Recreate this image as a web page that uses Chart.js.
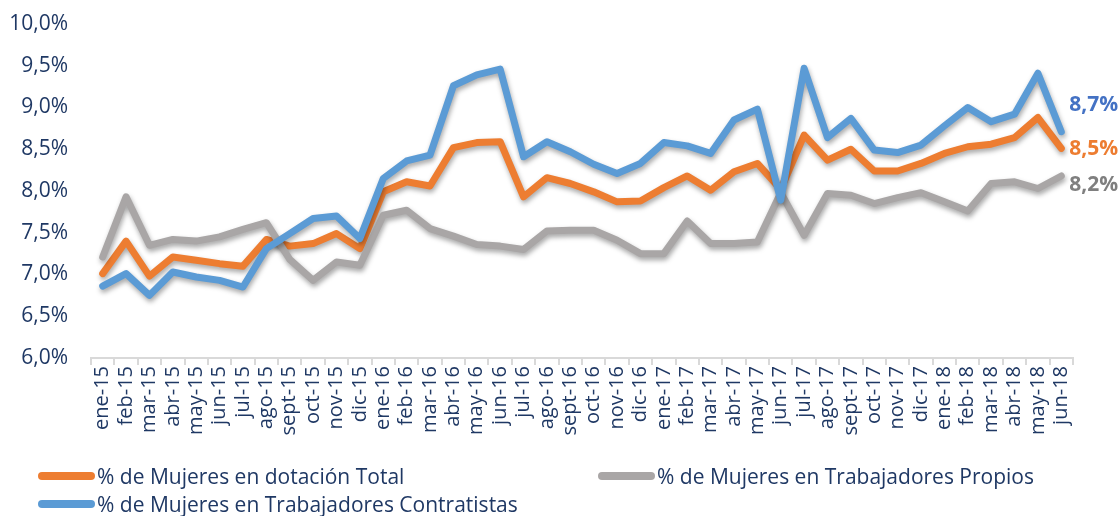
<!DOCTYPE html>
<html>
<head>
<meta charset="utf-8">
<script src="https://cdn.jsdelivr.net/npm/chart.js@4/dist/chart.umd.min.js"></script>
<style>
  html, body { margin: 0; padding: 0; background: #fff; }
  #wrap { position: relative; width: 1120px; height: 516px; }
  #legend { position: absolute; left: 0; top: 0; width: 1120px; height: 516px; pointer-events: none;
            font-family: "Open Sans", sans-serif; font-size: 21px; color: #1F3864; }
  .item { position: absolute; display: flex; align-items: center; white-space: nowrap; }
  .swatch { width: 57px; height: 8px; border-radius: 4px; margin-right: 2px; }
</style>
</head>
<body>
<div id="wrap">
  <canvas id="chart" width="1120" height="516"></canvas>
  <div id="legend"></div>
</div>
<script>
const meses = ['ene-15','feb-15','mar-15','abr-15','may-15','jun-15','jul-15','ago-15','sept-15','oct-15','nov-15','dic-15',
  'ene-16','feb-16','mar-16','abr-16','may-16','jun-16','jul-16','ago-16','sept-16','oct-16','nov-16','dic-16',
  'ene-17','feb-17','mar-17','abr-17','may-17','jun-17','jul-17','ago-17','sept-17','oct-17','nov-17','dic-17',
  'ene-18','feb-18','mar-18','abr-18','may-18','jun-18'];

const total = [7.01,7.40,6.98,7.21,7.17,7.13,7.10,7.42,7.34,7.37,7.49,7.31,
  7.99,8.11,8.06,8.52,8.58,8.59,7.93,8.16,8.09,7.99,7.87,7.88,
  8.04,8.18,8.01,8.23,8.33,8.02,8.67,8.37,8.50,8.24,8.24,8.33,
  8.45,8.53,8.56,8.64,8.88,8.51];

const propios = [7.21,7.93,7.35,7.42,7.40,7.45,7.54,7.62,7.18,6.93,7.15,7.11,
  7.71,7.77,7.55,7.46,7.36,7.34,7.30,7.52,7.53,7.53,7.41,7.25,
  7.25,7.64,7.37,7.37,7.39,7.98,7.47,7.97,7.95,7.85,7.92,7.98,
  7.87,7.76,8.09,8.11,8.03,8.18];

const contratistas = [6.86,7.01,6.75,7.03,6.97,6.93,6.85,7.31,7.49,7.67,7.70,7.43,
  8.15,8.36,8.43,9.26,9.39,9.46,8.41,8.59,8.47,8.32,8.21,8.33,
  8.58,8.54,8.45,8.85,8.98,7.89,9.47,8.64,8.87,8.49,8.46,8.55,
  8.78,9.00,8.83,8.92,9.41,8.71];

const yTicks = [6.0, 6.5, 7.0, 7.5, 8.0, 8.5, 9.0, 9.5, 10.0];

const navy = '#1F3864';
const fmt = v => v.toFixed(1).replace('.', ',') + '%';

// label colours / vertical nudges for the end-of-line values
const endStyle = [
  { color: '#ED7D31', dy: 1 },
  { color: '#7F7F7F', dy: 9 },
  { color: '#4472C4', dy: -27 }
];

const shadowPlugin = {
  id: 'shadow',
  beforeDatasetDraw(chart) {
    const ctx = chart.ctx;
    ctx.save();
    ctx.shadowColor = 'rgba(0,0,0,0.35)';
    ctx.shadowBlur = 5;
    ctx.shadowOffsetX = 1;
    ctx.shadowOffsetY = 3;
  },
  afterDatasetDraw(chart) {
    chart.ctx.restore();
  }
};

const endLabels = {
  id: 'endLabels',
  afterDatasetsDraw(chart) {
    const ctx = chart.ctx;
    ctx.save();
    ctx.font = 'bold 21px "Open Sans", sans-serif';
    ctx.textBaseline = 'middle';
    ctx.textAlign = 'left';
    chart.data.datasets.forEach((ds, i) => {
      const meta = chart.getDatasetMeta(i);
      const pt = meta.data[meta.data.length - 1];
      const v = ds.data[ds.data.length - 1];
      ctx.fillStyle = endStyle[i].color;
      ctx.fillText(fmt(v), pt.x + 8, pt.y + endStyle[i].dy);
    });
    ctx.restore();
  }
};

const datasets = [
  { label: '% de Mujeres en dotación Total', data: total, borderColor: '#ED7D31', order: 3 },
  { label: '% de Mujeres en Trabajadores Propios', data: propios, borderColor: '#A9A6A6', order: 2 },
  { label: '% de Mujeres en Trabajadores Contratistas', data: contratistas, borderColor: '#5B9BD5', order: 1 }
].map(d => Object.assign(d, {
  borderWidth: 7, pointRadius: 0, tension: 0, fill: false,
  borderCapStyle: 'round', borderJoinStyle: 'round'
}));

const chart = new Chart(document.getElementById('chart'), {
  type: 'line',
  data: { labels: meses, datasets: datasets },
  options: {
    responsive: false,
    animation: false,
    layout: { padding: { left: 0, right: 47, top: 24, bottom: 58 } },
    plugins: { legend: { display: false }, tooltip: { enabled: false } },
    scales: {
      x: {
        offset: true,
        border: { display: true, color: '#D9D9D9', width: 2 },
        grid: { display: true, offset: true, drawOnChartArea: false, drawTicks: true, tickLength: 7, color: '#D9D9D9', lineWidth: 2 },
        ticks: {
          autoSkip: false, minRotation: 90, maxRotation: 90, padding: 1,
          color: navy, font: { family: '"Open Sans", sans-serif', size: 20 }
        },
        afterFit(scale) { scale.height = 100; }
      },
      y: {
        min: 6, max: 10,
        border: { display: false },
        grid: { display: false, drawTicks: false },
        afterBuildTicks(scale) { scale.ticks = yTicks.map(v => ({ value: v })); },
        ticks: {
          padding: 23, color: navy,
          font: { family: '"Open Sans", sans-serif', size: 21 },
          callback: v => fmt(v)
        },
        // tick padding also inflates top padding; keep the plot top where the original has it
        afterFit(scale) { scale.width = 91; scale.paddingTop = 0; scale.paddingBottom = 0; }
      }
    }
  },
  plugins: [shadowPlugin, endLabels]
});

// legend laid out like the original: two columns, wrapping to a second row
const legendPos = [
  { left: 38, top: 462 },
  { left: 598, top: 462 },
  { left: 38, top: 490 }
];
const legend = document.getElementById('legend');
datasets.forEach((ds, i) => {
  const item = document.createElement('div');
  item.className = 'item';
  item.style.left = legendPos[i].left + 'px';
  item.style.top = legendPos[i].top + 'px';
  const sw = document.createElement('span');
  sw.className = 'swatch';
  sw.style.background = ds.borderColor;
  const tx = document.createElement('span');
  tx.textContent = ds.label;
  item.appendChild(sw);
  item.appendChild(tx);
  legend.appendChild(item);
});
</script>
</body>
</html>
